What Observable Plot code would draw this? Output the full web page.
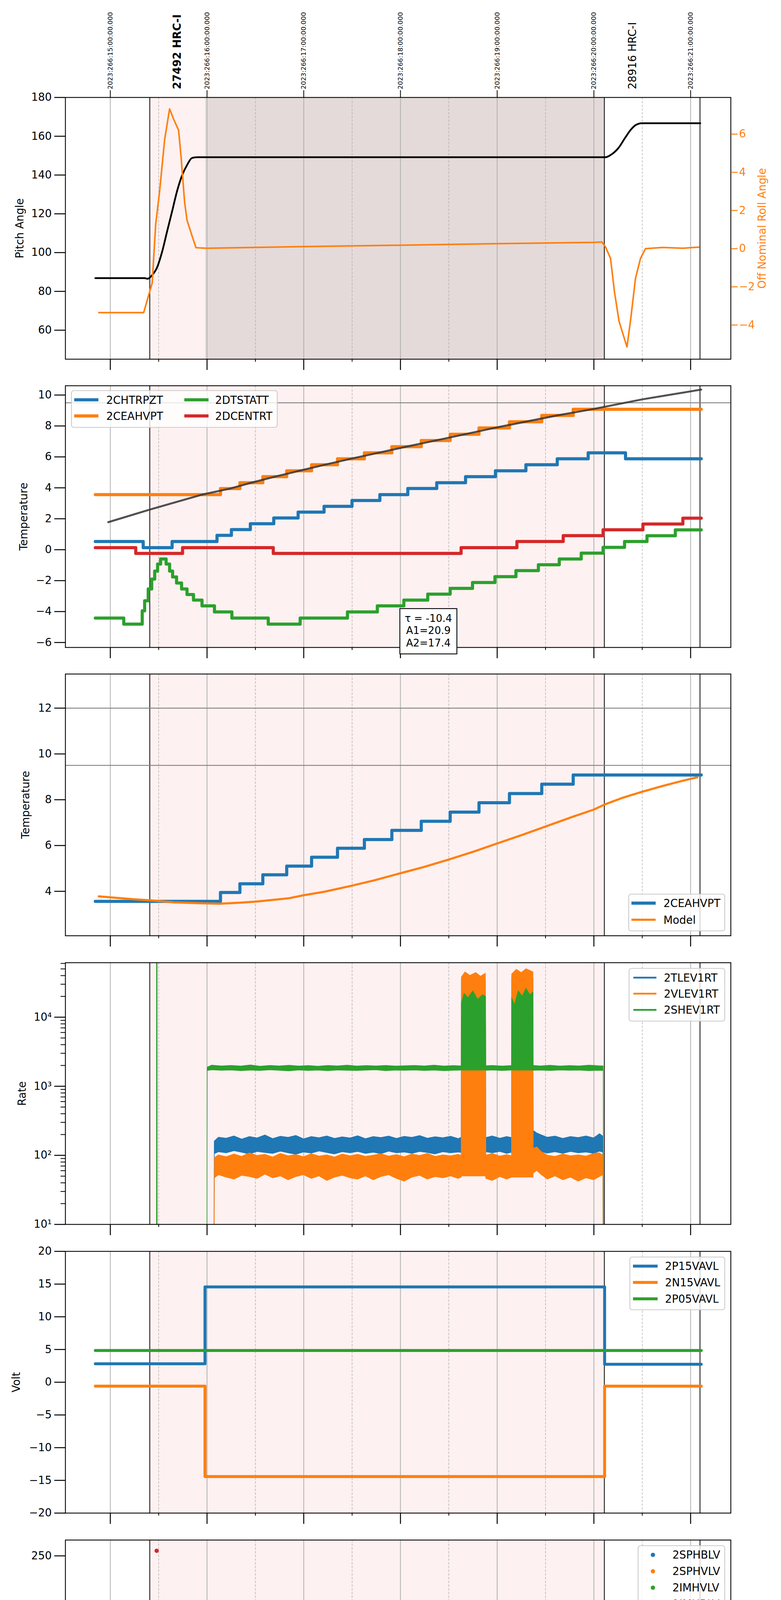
<!DOCTYPE html>
<html>
<head>
<meta charset="utf-8">
<script src="https://cdn.jsdelivr.net/npm/d3@7"></script>
<script src="https://cdn.jsdelivr.net/npm/@observablehq/plot@0.6"></script>
<style>
html,body{margin:0;padding:0;background:#fff;}
#root{position:relative;width:2000px;height:6200px;font-family:"DejaVu Sans",sans-serif;}
#root svg{position:absolute;left:0;}
</style>
</head>
<body>
<div id="root"></div>
<script>
// ---------------- data ----------------
const C = {blue:"#1f77b4", orange:"#ff7f0e", green:"#2ca02c", red:"#d62728"};

const hourTicks = [11,12,13,14,15,16,17];
const halfTicks = [11.5,12.5,13.5,14.5,15.5,16.5];
const hourLabels = ["11h","12h","13h","14h","15h","16h","17h"];
const utcLabels = ["2023:266:15:00:00.000","2023:266:16:00:00.000","2023:266:17:00:00.000","2023:266:18:00:00.000","2023:266:19:00:00.000","2023:266:20:00:00.000","2023:266:21:00:00.000"];
const obsNames = ["27492 HRC-I","28916 HRC-I"];
const obsHours = [11.695, 16.402];
const eventLines = [11.408, 16.108, 17.097];
const hrcOnSpan = [[11.408, 16.108]];
const scienceSpan = [[11.983, 16.108]];
const dateLabel = "2023-09-23 (266)";
const yLabels = ["Pitch Angle","Temperature","Temperature","Rate","Volt","HV Monitor","Detector Temp","FEA Temp"];

// panel 1
const pitchT = [10.845,11.355,11.386,11.433,11.484,11.536,11.587,11.639,11.690,11.742,11.793,11.845,11.896,16.121,16.172,16.250,16.327,16.379,16.430,16.497,17.100];
const pitchV = [86.85,86.85,86.5,88.4,92.4,100.5,110.9,121.3,131.7,139.8,145.1,148.8,149.2,149.2,150.3,153.7,159.5,163.2,165.7,166.7,166.7];
const rollT = [10.881,11.345,11.386,11.433,11.469,11.510,11.562,11.613,11.654,11.706,11.732,11.768,11.793,11.845,11.886,12.0,13.0,14.0,15.0,16.0,16.082,16.121,16.172,16.213,16.260,16.342,16.381,16.430,16.482,16.533,16.713,16.920,17.085];
const rollV = [-3.35,-3.35,-2.62,-1.8,1.26,3.02,5.73,7.32,6.79,6.2,4.79,2.44,1.49,0.67,0.05,0.02,0.11,0.18,0.26,0.33,0.35,0.08,-0.51,-2.27,-3.8,-5.15,-3.68,-1.56,-0.51,0.0,0.06,0.02,0.08];

// panel 2 / 3
const chtrpztT = [10.845,11.340,11.639,12.103,12.252,12.448,12.690,12.942,13.210,13.499,13.787,14.076,14.375,14.673,14.982,15.297,15.621,15.941,16.327];
const chtrpztV = [0.53,0.13,0.53,0.93,1.30,1.68,2.05,2.43,2.80,3.18,3.56,3.96,4.33,4.72,5.10,5.49,5.88,6.26,5.88];
const ceahvptT = [10.845,12.139,12.340,12.577,12.824,13.081,13.349,13.627,13.911,14.215,14.514,14.812,15.127,15.461,15.786];
const ceahvptV = [3.56,3.95,4.33,4.72,5.10,5.49,5.88,6.26,6.66,7.06,7.46,7.87,8.27,8.68,9.08];
const dtstattT = [10.845,11.139,11.330,11.355,11.392,11.428,11.459,11.489,11.520,11.577,11.613,11.644,11.685,11.737,11.793,11.860,11.948,12.077,12.257,12.633,12.963,13.452,13.761,14.035,14.282,14.514,14.745,14.977,15.194,15.426,15.642,15.869,16.095,16.317,16.549,16.842];
const dtstattV = [-4.42,-4.81,-3.95,-3.30,-2.54,-1.90,-1.38,-0.93,-0.60,-0.93,-1.38,-1.76,-2.15,-2.54,-2.90,-3.26,-3.63,-4.02,-4.42,-4.81,-4.42,-4.02,-3.63,-3.26,-2.87,-2.50,-2.12,-1.74,-1.35,-0.97,-0.60,-0.22,0.15,0.53,0.90,1.28];
const dcentrtT = [10.845,11.263,11.747,12.685,14.627,15.204,15.683,16.095,16.507,16.920];
const dcentrtV = [0.13,-0.24,0.13,-0.24,0.13,0.53,0.91,1.29,1.66,2.04];
const fitT = [10.979,11.407,11.948,12.236,12.458,12.70,12.953,13.215,13.488,13.767,14.06,14.364,14.663,14.967,15.29,15.621,16.0,16.5,17.11];
const fitV = [1.78,2.59,3.56,3.95,4.33,4.72,5.10,5.49,5.88,6.26,6.66,7.06,7.46,7.87,8.27,8.68,9.10,9.72,10.35];
const fitText = ["τ = -10.4","A1=20.9","A2=17.4"];
const limitLines2 = [9.5];
const limitLines3 = [12, 9.5];
const modelT = [10.88,11.05,11.25,11.41,11.66,11.92,12.13,12.33,12.5,12.69,12.85,13.0,13.21,13.47,13.73,14.0,14.24,14.5,14.76,15.0,15.27,15.5,15.79,16.0,16.11,16.3,16.5,16.71,16.92,17.07];
const modelV = [3.78,3.72,3.65,3.61,3.52,3.48,3.46,3.50,3.55,3.63,3.70,3.83,3.98,4.22,4.48,4.79,5.06,5.39,5.74,6.09,6.48,6.83,7.27,7.57,7.79,8.09,8.35,8.60,8.83,8.98];

// panel 4 (rate envelopes: [time, low, high])
const tlev1rt = [[12.072,1,1],[12.077,105,160],[12.12,112,182],[12.2,108,176],[12.28,116,190],[12.36,110,171],[12.44,104,186],[12.52,113,178],[12.6,109,196],[12.68,106,174],[12.76,114,188],[12.84,108,181],[12.92,103,193],[13.0,111,172],[13.08,107,186],[13.16,115,179],[13.24,109,190],[13.32,104,175],[13.4,112,184],[13.48,108,178],[13.56,113,191],[13.64,106,173],[13.72,110,186],[13.8,105,180],[13.88,114,189],[13.96,108,175],[14.04,111,187],[14.12,106,181],[14.2,113,192],[14.28,109,176],[14.36,104,185],[14.44,112,179],[14.52,108,188],[14.6,111,174],[14.63,109,182],[14.632,109,36000],[14.88,109,34000],[14.885,112,180],[14.95,108,190],[15.03,113,176],[15.1,106,186],[15.15,110,180],[15.152,104,38000],[15.372,104,37000],[15.375,118,228],[15.41,120,210],[15.46,112,196],[15.52,107,182],[15.6,112,189],[15.68,106,175],[15.76,113,186],[15.84,108,180],[15.92,111,190],[16.0,106,178],[16.06,114,205],[16.095,110,188],[16.1,1,1]];
const vlev1rt = [[12.074,1,1],[12.079,47,92],[12.12,52,101],[12.2,48,95],[12.28,45,104],[12.36,51,96],[12.44,49,108],[12.52,46,99],[12.6,53,103],[12.68,47,94],[12.76,50,106],[12.84,44,98],[12.92,49,102],[13.0,52,95],[13.08,46,105],[13.16,50,97],[13.24,43,101],[13.32,48,94],[13.4,51,104],[13.48,47,98],[13.56,45,103],[13.64,50,96],[13.72,44,100],[13.8,49,105],[13.88,52,97],[13.96,46,102],[14.04,42,95],[14.12,48,104],[14.2,51,99],[14.28,45,106],[14.36,49,96],[14.44,47,101],[14.52,50,98],[14.6,46,103],[14.63,48,99],[14.632,50,38000],[14.67,50,45000],[14.72,50,40000],[14.78,50,44000],[14.83,50,39000],[14.88,50,43000],[14.885,46,100],[14.95,43,106],[15.03,49,97],[15.1,45,102],[15.15,48,98],[15.152,48,42000],[15.2,48,49000],[15.25,48,44000],[15.3,48,50000],[15.372,48,45000],[15.375,55,125],[15.41,60,132],[15.46,52,112],[15.52,45,100],[15.6,50,96],[15.68,44,104],[15.76,48,98],[15.84,42,101],[15.92,47,97],[16.0,44,106],[16.06,49,108],[16.095,52,100],[16.1,1,1]];
const shev1rt = [[11.479,1,1],[11.480,1,1e6],[11.486,1,1e6],[11.487,1,1],[12.0,1,1],[12.004,1680,1880],[12.05,1720,2010],[12.15,1690,1960],[12.25,1710,1990],[12.35,1670,1950],[12.45,1700,2020],[12.55,1680,1940],[12.65,1720,1990],[12.75,1690,1960],[12.85,1660,2000],[12.95,1710,1950],[13.05,1680,1980],[13.15,1700,1940],[13.25,1670,1990],[13.35,1710,1960],[13.45,1690,2010],[13.55,1680,1950],[13.65,1700,1980],[13.75,1720,1960],[13.85,1670,1990],[13.95,1700,1950],[14.05,1690,1970],[14.15,1710,1990],[14.25,1680,1960],[14.35,1700,2010],[14.45,1670,1950],[14.55,1690,1980],[14.63,1700,1960],[14.632,1700,16000],[14.66,1700,22000],[14.7,1700,19000],[14.75,1700,24000],[14.8,1700,18000],[14.85,1700,21000],[14.882,1700,20000],[14.885,1690,1970],[14.95,1710,1990],[15.05,1680,1950],[15.15,1700,1980],[15.152,1700,19000],[15.18,1700,15000],[15.22,1700,24000],[15.26,1700,20000],[15.3,1700,26000],[15.34,1700,21000],[15.372,1700,23000],[15.375,1690,1990],[15.45,1700,1960],[15.55,1680,2000],[15.65,1710,1950],[15.75,1690,1980],[15.85,1700,1960],[15.95,1670,2010],[16.05,1690,1970],[16.098,1680,1960],[16.1,1,1]];
const rateMajor = [10,100,1000,10000];
const rateMajorLabels = ["10¹","10²","10³","10⁴"];
const rateMinor = [20,30,40,50,60,70,80,90,200,300,400,500,600,700,800,900,2000,3000,4000,5000,6000,7000,8000,9000,20000,30000,40000,50000,60000];

// panel 5
const p15vavlT = [10.845,11.979,16.111], p15vavlV = [2.82,14.56,2.75];
const n15vavlT = [10.845,11.979,16.111], n15vavlV = [-0.59,-14.42,-0.59];
const p05vavlT = [10.845], p05vavlV = [4.85];

// panel 6
const imhblvT = [11.479,12.030,12.032,12.035,12.038,12.040,12.045,12.050,12.055,12.060,12.066,14.642,14.662,14.682,14.702,14.722,14.742,14.762,14.782,14.797,15.245,15.307];
const imhblvV = [255.2,127,125,119,107,104,100,97,93,90,87,79,79,79,79,79,79,79,79,79,79,79];
const imhblvRuns = [[12.07,16.118,86.1]];
const imhvlvT = [12.028,12.034,12.040,12.048,12.058,14.642,14.662,14.682,14.702,14.722,14.742,14.762,14.780,15.245,15.307];
const imhvlvV = [99,95,90,86,82,127,127,127,127,127,127,127,127,127,127];
const imhvlvRuns = [[12.068,16.118,79.2]];

// panel 7
const spinatmT = [11.979,12.087,12.329,13.911,14.885,15.322,15.915], spinatmV = [3.26,2.83,2.39,2.85,3.26,3.71,4.16];
const sphvatmT = [11.979,11.982,12.736,13.020,13.287,13.545,13.808,14.076,14.333,14.586,14.859,15.096,15.359,15.642,15.920];
const sphvatmV = [12.6,13.33,13.63,13.90,14.18,14.45,14.71,15.00,15.27,15.54,15.83,16.12,16.41,16.69,16.97];
const iminatmT = [11.979,12.350,14.138,15.116,15.843], iminatmV = [0.65,1.08,1.51,1.96,2.39];
const imhvatmT = [10.845,11.979,12.113,12.231,12.334,12.437,12.551,12.674,12.808,12.947,13.107,13.277,13.457,13.658,13.880,14.117,14.344,14.591,14.823,15.075,15.338,15.621,15.905,16.105,16.108];
const imhvatmV = [-60,12.51,12.79,13.07,13.33,13.61,13.90,14.17,14.44,14.72,15.00,15.29,15.56,15.84,16.12,16.41,16.69,16.97,17.24,17.54,17.82,18.10,18.39,25,-60];
const spinatmBursts = [[14.632,14.882,-1,3.3],[15.152,15.27,-1,3.3],[15.285,15.33,-1,3.3]];
const sphvatmBursts = [[14.632,14.882,10.75,15.6],[15.152,15.33,11.36,16.12]];
const iminatmBursts = [[14.632,14.882,1.45,3.33],[15.152,15.33,1.96,3.33]];
const imhvatmBursts = [[14.632,14.882,15.45,17.0],[15.152,15.33,16.12,17.54]];

// panel 8
const fhtrmztT = [11.979,12.165,12.295,12.412,12.525,12.633,12.749,12.862,12.935,12.940,12.970,13.084,13.210,13.331,13.448,13.574,13.700,13.830,13.956,14.088,14.223,14.364,14.503,14.646,14.793,14.938,15.091,15.244,15.406,15.559,15.722,15.884,16.055,16.713];
const fhtrmztV = [-9.5,-8.75,-8.35,-7.94,-7.54,-7.15,-6.76,-6.34,-6.76,-6.34,-5.97,-5.56,-5.17,-4.78,-4.39,-4.00,-3.63,-3.25,-2.86,-2.48,-2.10,-1.72,-1.36,-0.98,-0.60,-0.21,0.16,0.52,0.91,1.30,1.67,2.03,2.39,2.03];
const fradpytT = [11.979,12.579,12.691,12.803,12.922,13.043,13.169,13.295,13.427,13.556,13.691,13.827,13.967,14.106,14.250,14.400,14.548,14.720,14.865,15.019,15.181,15.343,15.505,15.686,15.866,16.046,16.430,16.746];
const fradpytV = [-9.5,-8.77,-8.37,-7.96,-7.57,-7.15,-6.76,-6.37,-5.98,-5.59,-5.20,-4.80,-4.42,-4.03,-3.65,-3.27,-2.88,-2.50,-2.12,-1.76,-1.36,-0.98,-0.62,-0.24,0.15,0.52,0.15,-0.24];
const fepratmT = [11.997,12.024,12.069,12.114,12.168,12.240,12.322,12.412,12.502,12.610,12.718,12.835,12.952,13.079,13.205,13.336,13.466,13.601,13.746,13.881,14.034,14.196,14.349,14.512,14.884,15.046,15.163,15.424,15.604,15.803];
const fepratmV = [-7.81,-7.40,-6.99,-6.59,-6.19,-5.80,-5.41,-5.02,-4.62,-4.21,-3.83,-3.42,-3.02,-2.64,-2.26,-1.85,-1.43,-1.00,-0.62,-0.21,0.19,0.64,1.06,1.52,2.39,2.80,3.29,3.71,4.15,6];
const fe00atmT = [10.845,11.979,12.132,12.222,12.298,12.388,12.466,12.547,12.637,12.724,12.814,12.907,12.979,13.070,13.187,13.212,13.216,13.286,13.380,13.481,13.583,13.673,13.787,13.895,14.003,14.106,14.167,14.171,14.214,14.328,14.439,14.551,14.632,14.736,14.742,14.887,15.028,15.145,15.352,15.388,15.532,15.659,15.803,15.900,15.905,16.108];
const fe00atmV = [-60,-7.09,-6.70,-6.34,-5.98,-5.62,-5.24,-4.89,-4.53,-4.17,-3.83,-3.45,-3.11,-2.80,-2.44,-3.13,-2.44,-2.10,-1.76,-1.43,-1.11,-0.80,-0.47,-0.12,0.19,0.51,-0.48,0.51,0.82,1.13,1.45,1.75,6,-60,6,2.59,2.95,6,3.56,3.79,4.15,4.33,6,4.1,6,-60];
const fepratmBars = [[14.646,14.682,-4.66,1.9],[14.686,14.735,-4.66,1.9],[14.745,14.80,-4.66,1.95],[14.81,14.884,-4.66,2.39],[15.150,15.186,-4.66,3.29],[15.195,15.226,-4.66,3.29],[15.235,15.262,-4.66,3.29],[15.276,15.316,-4.66,3.29]];
const fe00atmBursts = [[14.632,14.887,1.96,6],[15.145,15.352,3.25,6]];

// legend names
const legend2 = ["2CHTRPZT","2CEAHVPT","2DTSTATT","2DCENTRT"];
const legend3 = ["2CEAHVPT","Model"];
const legend4 = ["2TLEV1RT","2VLEV1RT","2SHEV1RT"];
const legend5 = ["2P15VAVL","2N15VAVL","2P05VAVL"];
const legend6 = ["2SPHBLV","2SPHVLV","2IMHVLV","2IMHBLV"];
const legend7 = ["2SPINATM","2SPHVATM","2IMINATM","2IMHVATM"];
const legend8 = ["2FHTRMZT","2FRADPYT","2FEPRATM","2FE00ATM"];

// ---------------- layout ----------------
const ML = 167, MR = 129, PH = 670;
const panelTops = [249, 987, 1725, 2464, 3203, 3942, 4681, 5420];
const xDomain = [10.5357, 17.4158];
const root = document.getElementById("root");
const fmt = d => (d < 0 ? "\u2212" + Math.abs(d) : String(d));
const baseStyle = {fontFamily: '"DejaVu Sans", sans-serif', fontSize: "27.5px", color: "black", background: "transparent", overflow: "visible"};
const tab4 = [C.blue, C.orange, C.green, C.red];

const pts = (ts, vs) => ts.map((t, i) => ({t, v: vs[i]}));
const steps = (ts, vs, end) => pts(ts, vs).concat([{t: end, v: vs[vs.length - 1]}]);
const stepLine = (data, stroke, w) => Plot.line(data, {x: "t", y: "v", curve: "step-after", stroke, strokeWidth: w, clip: true});
const bursts = (data, fill) => Plot.rect(data, {x1: d => d[0], x2: d => d[1], y1: d => d[2], y2: d => d[3], fill, stroke: fill, strokeWidth: 7, clip: true});

function background(yDom, dark) {
  const m = [Plot.rect(hrcOnSpan, {x1: d => d[0], x2: d => d[1], y1: () => yDom[0], y2: () => yDom[1], fill: "#fdf1f1"})];
  if (dark) m.push(Plot.rect(scienceSpan, {x1: d => d[0], x2: d => d[1], y1: () => yDom[0], y2: () => yDom[1], fill: "#e4dada"}));
  m.push(Plot.ruleX(hourTicks, {x: d => d, stroke: "#b0b0b0", strokeWidth: 2}));
  m.push(Plot.ruleX(halfTicks, {x: d => d, stroke: "#b0b0b0", strokeWidth: 1.4, strokeDasharray: "6,3.5"}));
  m.push(Plot.ruleX(eventLines, {x: d => d, stroke: "black", strokeWidth: 2}));
  return m;
}
function xAxes(withLabels) {
  return [
    Plot.axisX({ticks: hourTicks, tickSize: 28, tickPadding: 10, strokeWidth: 2.5, fontSize: 28, label: null,
      tickFormat: withLabels ? (d => hourLabels[hourTicks.indexOf(d)]) : (() => "")}),
    Plot.axisX({ticks: halfTicks, tickSize: 7, tickPadding: 2, strokeWidth: 2, fontSize: 19.5, label: null,
      tickFormat: withLabels ? (() => "30") : (() => "")})
  ];
}
// legend drawn into a panel svg; positions given in page pixels
function legend(svg, svgTop, box, names, colors, ys, sx, tx, lw, kind) {
  const g = d3.select(svg).append("g").attr("transform", `translate(0,${-svgTop})`)
    .attr("text-anchor", "start")
    .style("font-family", '"DejaVu Sans", sans-serif').style("font-size", "27.5px");
  g.append("rect").attr("x", box[0]).attr("y", box[1]).attr("width", box[2] - box[0]).attr("height", box[3] - box[1])
    .attr("rx", 6).attr("fill", "white").attr("fill-opacity", 0.8).attr("stroke", "#cccccc").attr("stroke-width", 2.2);
  names.forEach((n, k) => {
    const y = ys[k % ys.length];
    const col = Math.floor(k / ys.length);
    const s = Array.isArray(sx[0]) ? sx[col] : sx;
    const t = Array.isArray(tx) ? tx[col] : tx;
    const w = Array.isArray(lw) ? lw[k] : lw;
    if (kind === "dot") g.append("circle").attr("cx", s[0]).attr("cy", y).attr("r", 5.5).attr("fill", colors[k]);
    else g.append("line").attr("x1", s[0]).attr("x2", s[1]).attr("y1", y).attr("y2", y).attr("stroke", colors[k]).attr("stroke-width", w);
    g.append("text").attr("x", t).attr("y", y).attr("text-anchor", "start").attr("dominant-baseline", "central").attr("fill", "black").text(n);
  });
  return g;
}
function makePanel(i, o) {
  const mt = o.mt ?? 20, mb = o.mb ?? 50;
  const marks = [
    ...background(o.yDom, o.dark),
    ...o.marks,
    ...xAxes(o.xLabels),
    Plot.axisY({ticks: o.yTicks, tickSize: 28, tickPadding: 7, tickFormat: o.yFmt ?? fmt, fontSize: 27.5, strokeWidth: 2.5, label: null}),
    ...(o.yMinor ? [Plot.axisY({ticks: o.yMinor, tickSize: 12, tickFormat: () => "", strokeWidth: 2, label: null})] : []),
    Plot.text([yLabels[i]], {text: d => d, frameAnchor: "left", dx: -o.labelDx, rotate: -90, fontSize: 27.5, textAnchor: "middle", lineAnchor: "middle"}),
    ...(o.extra ?? []),
    Plot.frame({stroke: "black", strokeWidth: 2.2})
  ];
  const svg = Plot.plot({
    width: 2000, height: PH + mt + mb, marginLeft: ML, marginRight: MR, marginTop: mt, marginBottom: mb,
    x: {domain: xDomain}, y: {type: o.yType ?? "linear", domain: o.yDom},
    style: baseStyle, marks
  });
  const top = panelTops[i] - mt;
  svg.style.top = top + "px";
  root.appendChild(svg);
  if (o.legend) legend(svg, top, ...o.legend);
  return {svg, top};
}

// ---- panel 1: pitch + roll
makePanel(0, {
  yDom: [45.04, 180], dark: true, mt: 249, labelDx: 116, yTicks: [60,80,100,120,140,160,180],
  marks: [Plot.line(pts(pitchT, pitchV), {x: "t", y: "v", stroke: "black", strokeWidth: 4.5, curve: "monotone-x", clip: true})],
  extra: [
    Plot.axisX({anchor: "top", ticks: hourTicks, tickSize: 19, strokeWidth: 2, tickFormat: () => "", label: null}),
    Plot.text(hourTicks, {x: d => d, text: (d, i) => utcLabels[i], frameAnchor: "top", dy: -21, rotate: -90, textAnchor: "start", lineAnchor: "middle", fontSize: 16.7}),
    Plot.text([obsHours[0]], {x: d => d, text: () => obsNames[0], frameAnchor: "top", dy: -21, rotate: -90, textAnchor: "start", lineAnchor: "middle", fontSize: 27.5, fontWeight: "bold"}),
    Plot.text([obsHours[1]], {x: d => d, text: () => obsNames[1], frameAnchor: "top", dy: -21, rotate: -90, textAnchor: "start", lineAnchor: "middle", fontSize: 27.5})
  ]
});
{
  const mt = 249, mb = 50;
  const svg = Plot.plot({
    width: 2000, height: PH + mt + mb, marginLeft: ML, marginRight: MR, marginTop: mt, marginBottom: mb,
    x: {domain: xDomain, axis: null}, y: {domain: [-5.79, 7.92]}, style: baseStyle,
    marks: [
      Plot.line(pts(rollT, rollV), {x: "t", y: "v", stroke: C.orange, strokeWidth: 4, clip: true}),
      Plot.axisY({anchor: "right", ticks: [-4,-2,0,2,4,6], tickSize: 17, tickPadding: 4, tickFormat: fmt, color: C.orange, fontSize: 27.5, strokeWidth: 2.5, label: null}),
      Plot.text(["Off Nominal Roll Angle"], {text: d => d, frameAnchor: "right", dx: 80.5, rotate: -90, fill: C.orange, fontSize: 27.5, textAnchor: "middle", lineAnchor: "middle"})
    ]
  });
  svg.style.top = "0px";
  root.appendChild(svg);
}

// ---- panel 2
{
  const p = makePanel(1, {
    yDom: [-6.32, 10.6], labelDx: 106, yTicks: [-6,-4,-2,0,2,4,6,8,10],
    marks: [
      Plot.ruleY(limitLines2, {y: d => d, stroke: "#808080", strokeWidth: 2.2}),
      stepLine(steps(chtrpztT, chtrpztV, 17.11), C.blue, 8),
      stepLine(steps(ceahvptT, ceahvptV, 17.11), C.orange, 8),
      stepLine(steps(dtstattT, dtstattV, 17.11), C.green, 8),
      stepLine(steps(dcentrtT, dcentrtV, 17.11), C.red, 8),
      Plot.line(pts(fitT, fitV), {x: "t", y: "v", stroke: "#333333", strokeOpacity: 0.85, strokeWidth: 5, clip: true})
    ],
    legend: [[183,1000,710,1094], legend2, tab4, [1023.5,1064.8], [[190,252],[472,534]], [272,551], 8]
  });
  const ann = d3.select(p.svg).append("g").attr("transform", `translate(0,${-p.top})`)
    .style("font-family", '"DejaVu Sans", sans-serif');
  ann.append("rect").attr("x", 1024).attr("y", 1558).attr("width", 146).attr("height", 116)
    .attr("fill", "white").attr("stroke", "black").attr("stroke-width", 2.2);
  fitText.forEach((s, k) => ann.append("text").attr("x", 1097).attr("y", 1582.6 + k * 31.7)
    .attr("text-anchor", "middle").attr("dominant-baseline", "central").style("font-size", "26px").text(s));
}

// ---- panel 3
makePanel(2, {
  yDom: [2.06, 13.49], labelDx: 101, yTicks: [4,6,8,10,12],
  marks: [
    Plot.ruleY(limitLines3, {y: d => d, stroke: "#808080", strokeWidth: 2.2}),
    stepLine(steps(ceahvptT, ceahvptV, 17.11), C.blue, 8),
    Plot.line(pts(modelT, modelV), {x: "t", y: "v", stroke: C.orange, strokeWidth: 5.5, clip: true})
  ],
  legend: [[1610,2289,1856,2383], legend3, [C.blue, C.orange], [2312,2354.6], [1617,1679], 1699, [8,5.5]]
});

// ---- panel 4 (log)
const rateArea = (data, c) => Plot.areaY(data, {x: d => d[0], y1: d => d[1], y2: d => d[2], fill: c, stroke: c, strokeWidth: 1.5, clip: true});
makePanel(3, {
  yDom: [10, 61500], yType: "log", labelDx: 110, yTicks: rateMajor, yMinor: rateMinor,
  yFmt: d => rateMajorLabels[rateMajor.indexOf(d)],
  marks: [rateArea(tlev1rt, C.blue), rateArea(vlev1rt, C.orange), rateArea(shev1rt, C.green)],
  legend: [[1611,2479,1856,2614], legend4, [C.blue, C.orange, C.green], [2502.8,2543.8,2585.3], [1622,1681], 1700, 4.5]
});

// ---- panel 5
makePanel(4, {
  yDom: [-20, 20], labelDx: 125, yTicks: [-20,-15,-10,-5,0,5,10,15,20],
  marks: [
    stepLine(steps(p15vavlT, p15vavlV, 17.11), C.blue, 7.5),
    stepLine(steps(n15vavlT, n15vavlV, 17.11), C.orange, 7.5),
    stepLine(steps(p05vavlT, p05vavlV, 17.11), C.green, 7.5)
  ],
  legend: [[1613,3218,1856,3353], legend5, [C.blue, C.orange, C.green], [3241.3,3282.9,3324.9], [1621,1684], 1703, 7.5]
});

// ---- panel 6
const runs = (data, c) => Plot.ruleY(data, {y: d => d[2], x1: d => d[0], x2: d => d[1], stroke: c, strokeWidth: 11.5, strokeLinecap: "round", clip: true});
makePanel(5, {
  yDom: [0, 266.1], labelDx: 119, yTicks: [0,50,100,150,200,250],
  marks: [
    runs(imhvlvRuns, C.green),
    Plot.dot(pts(imhvlvT, imhvlvV), {x: "t", y: "v", r: 5.5, fill: C.green, stroke: null, clip: true}),
    runs(imhblvRuns, C.red),
    Plot.dot(pts(imhblvT, imhblvV), {x: "t", y: "v", r: 5.5, fill: C.red, stroke: null, clip: true})
  ],
  legend: [[1634,3957,1856,4132], legend6, tab4, [3980.4,4022.4,4064.4,4106.4], [1672,1672], 1722, 0, "dot"]
});

// ---- panel 7
makePanel(6, {
  yDom: [-0.43, 18.75], labelDx: 125, yTicks: [0,2.5,5,7.5,10,12.5,15,17.5], yFmt: d => d.toFixed(1),
  marks: [
    stepLine(steps(spinatmT, spinatmV, 16.09), C.blue, 8), bursts(spinatmBursts, C.blue),
    stepLine(steps(sphvatmT, sphvatmV, 16.09), C.orange, 8), bursts(sphvatmBursts, C.orange),
    stepLine(steps(iminatmT, iminatmV, 16.09), C.green, 8), bursts(iminatmBursts, C.green),
    stepLine(steps(imhvatmT, imhvatmV, 17.11), C.red, 7), bursts(imhvatmBursts, C.red)
  ],
  legend: [[1610,4694,1856,4872], legend7, tab4, [4719,4760,4801.6,4844], [1617,1679], 1696, 8]
});

// ---- panel 8
makePanel(7, {
  yDom: [-9.06, 4.43], labelDx: 106, yTicks: [-8,-6,-4,-2,0,2,4], mb: 110, xLabels: true,
  marks: [
    stepLine(steps(fhtrmztT, fhtrmztV, 17.11), C.blue, 8),
    stepLine(steps(fradpytT, fradpytV, 17.11), C.orange, 8),
    stepLine(steps(fepratmT, fepratmV, 16.11), C.green, 8), bursts(fepratmBars, C.green),
    stepLine(steps(fe00atmT, fe00atmV, 17.11), C.red, 8), bursts(fe00atmBursts, C.red)
  ],
  extra: [Plot.text([dateLabel], {text: d => d, frameAnchor: "bottom", dy: 88, fontSize: 33, lineAnchor: "middle"})],
  legend: [[1606,5902,1856,6077], legend8, tab4, [5923.4,5965.8,6008.2,6049.7], [1613,1677], 1695.5, 8]
});
</script>
</body>
</html>
